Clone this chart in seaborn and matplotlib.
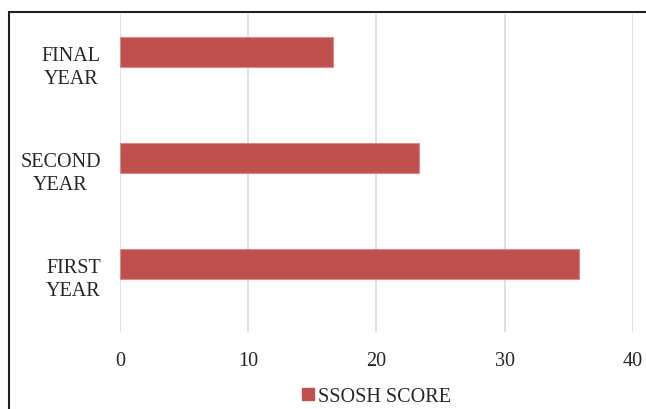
import pandas as pd
import numpy as np
import matplotlib
matplotlib.use("Agg")
import matplotlib.pyplot as plt
import matplotlib.patches as mpatches
import matplotlib.transforms as mtransforms
import seaborn as sns

# Data
years = ["FINAL\nYEAR", "SECOND\nYEAR", "FIRST\nYEAR"]
ssosh_scores = [16.6, 23.3, 35.8]
series_name = "SSOSH SCORE"
empty_series = " "  # second (empty) series in the original cluster

df = pd.DataFrame({"Year": years, "Score": ssosh_scores, "Series": series_name})

sns.set_theme(style="white")
plt.rcParams["font.family"] = ["Liberation Serif", "DejaVu Serif"]

bar_color = "#C0504D"
text_color = "#262626"

fig = plt.figure(figsize=(6.46, 4.10), dpi=100)
ax = fig.add_axes([0.1862, 0.1878, 0.7932, 0.7756])

sns.barplot(data=df, x="Score", y="Year", hue="Series",
            hue_order=[series_name, empty_series], order=years,
            palette=[bar_color, bar_color], saturation=1, width=0.56, dodge=True,
            edgecolor="#DA8A87", linewidth=0.8, legend=False, ax=ax)

ax.set_xlim(0, 40)
ax.set_xticks([0, 10, 20, 30, 40])
ax.set_ylim(2.5, -0.5)
ax.xaxis.grid(True, color="#D9D9D9", linewidth=1.1)
ax.yaxis.grid(False)
ax.set_axisbelow(True)
for s in ax.spines.values():
    s.set_visible(False)
ax.set_xlabel("")
ax.set_ylabel("")
ax.tick_params(axis="x", length=0, pad=14, labelsize=14.5, labelcolor=text_color)
ax.tick_params(axis="y", length=0, pad=14, labelsize=14.5, labelcolor=text_color)
shift_up = mtransforms.ScaledTranslation(0, 5 / 100, fig.dpi_scale_trans)
for lbl in ax.get_yticklabels():
    lbl.set_multialignment("center")
    lbl.set_linespacing(1.35)
    lbl.set_transform(lbl.get_transform() + shift_up)

handle = mpatches.Patch(color=bar_color, label=series_name)
fig.legend(handles=[handle], loc="center", bbox_to_anchor=(0.583, 0.03),
           frameon=False, fontsize=14.5, handlelength=0.6, handleheight=0.6,
           handletextpad=0.2, labelcolor=text_color)

# outer border like the source image
border = mpatches.Rectangle((9 / 646, -0.05), 1.0, 1 - 13 / 410 + 0.05,
                            transform=fig.transFigure, fill=False,
                            edgecolor="#202020", linewidth=1.5)
fig.patches.append(border)

fig.savefig("out.png", dpi=100)
